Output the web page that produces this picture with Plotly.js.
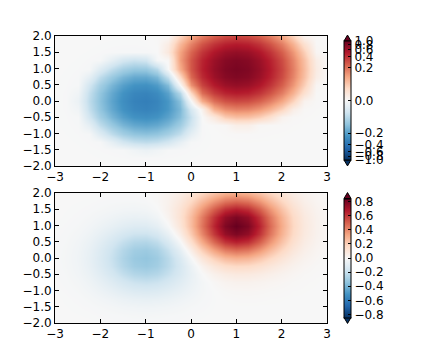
<!DOCTYPE html>
<html><head><meta charset="utf-8">
<script src="https://cdn.plot.ly/plotly-3.0.1.min.js"></script>
<style>html,body{margin:0;padding:0;background:#fff}#chart{width:440px;height:360px}</style>
</head><body><div id="chart"></div>
<script>
// grid coordinates
const xs = [-3,-2.75,-2.5,-2.25,-2,-1.75,-1.5,-1.25,-1,-0.75,-0.5,-0.25,0,0.25,0.5,0.75,1,1.25,1.5,1.75,2,2.25,2.5,2.75,3];
const ys = [-2,-1.75,-1.5,-1.25,-1,-0.75,-0.5,-0.25,0,0.25,0.5,0.75,1,1.25,1.5,1.75,2];
// field values (rows = ys, columns = xs)
const zValues = [
[0,0,-0.001,-0.001,-0.002,-0.004,-0.005,-0.006,-0.006,-0.006,-0.005,-0.004,-0.002,-0.001,-0.001,0,0,0,0,0,0,0,0,0,0],
[0,-0.001,-0.002,-0.003,-0.006,-0.009,-0.012,-0.015,-0.016,-0.015,-0.012,-0.009,-0.006,-0.003,-0.001,0,0,0,0,0,0,0,0,0,0],
[-0.001,-0.002,-0.004,-0.007,-0.013,-0.020,-0.028,-0.033,-0.036,-0.033,-0.028,-0.020,-0.012,-0.007,-0.002,0,0.001,0.001,0.001,0.001,0.001,0,0,0,0],
[-0.001,-0.003,-0.007,-0.015,-0.026,-0.040,-0.055,-0.066,-0.071,-0.066,-0.055,-0.039,-0.024,-0.012,-0.003,0.002,0.004,0.005,0.004,0.003,0.002,0.001,0.001,0,0],
[-0.002,-0.006,-0.013,-0.026,-0.046,-0.071,-0.097,-0.117,-0.124,-0.116,-0.095,-0.068,-0.040,-0.017,-0.001,0.009,0.013,0.014,0.012,0.009,0.006,0.003,0.002,0.001,0],
[-0.004,-0.009,-0.020,-0.040,-0.071,-0.110,-0.150,-0.180,-0.192,-0.179,-0.146,-0.101,-0.056,-0.018,0.010,0.028,0.036,0.036,0.030,0.022,0.015,0.008,0.004,0.002,0.001],
[-0.005,-0.012,-0.028,-0.055,-0.097,-0.150,-0.205,-0.246,-0.261,-0.243,-0.195,-0.131,-0.064,-0.004,0.042,0.071,0.084,0.082,0.069,0.051,0.033,0.019,0.009,0.004,0.002],
[-0.006,-0.015,-0.033,-0.066,-0.117,-0.181,-0.247,-0.297,-0.314,-0.290,-0.228,-0.144,-0.052,0.034,0.104,0.151,0.171,0.164,0.137,0.101,0.065,0.037,0.019,0.008,0.003],
[-0.006,-0.016,-0.036,-0.071,-0.124,-0.192,-0.262,-0.315,-0.332,-0.303,-0.230,-0.127,-0.010,0.106,0.206,0.276,0.304,0.290,0.241,0.177,0.114,0.065,0.033,0.015,0.006],
[-0.006,-0.015,-0.033,-0.066,-0.117,-0.180,-0.246,-0.295,-0.308,-0.275,-0.196,-0.080,0.060,0.208,0.341,0.437,0.475,0.450,0.374,0.274,0.177,0.101,0.051,0.022,0.009],
[-0.005,-0.012,-0.028,-0.055,-0.097,-0.149,-0.203,-0.243,-0.251,-0.216,-0.135,-0.012,0.145,0.319,0.484,0.605,0.652,0.616,0.511,0.374,0.242,0.138,0.069,0.031,0.012],
[-0.004,-0.009,-0.020,-0.040,-0.071,-0.109,-0.148,-0.176,-0.178,-0.144,-0.066,0.057,0.221,0.411,0.597,0.736,0.789,0.744,0.617,0.452,0.292,0.166,0.084,0.037,0.015],
[-0.002,-0.006,-0.013,-0.026,-0.046,-0.070,-0.095,-0.111,-0.109,-0.077,-0.008,0.106,0.265,0.455,0.644,0.787,0.842,0.792,0.657,0.481,0.311,0.177,0.089,0.039,0.015],
[-0.001,-0.003,-0.007,-0.015,-0.026,-0.040,-0.054,-0.061,-0.056,-0.029,0.028,0.126,0.266,0.437,0.610,0.742,0.792,0.744,0.617,0.452,0.292,0.166,0.084,0.037,0.015],
[-0.001,-0.002,-0.004,-0.007,-0.013,-0.020,-0.026,-0.029,-0.024,-0.003,0.042,0.118,0.229,0.367,0.508,0.616,0.657,0.617,0.512,0.375,0.242,0.138,0.069,0.031,0.012],
[0,-0.001,-0.002,-0.003,-0.006,-0.009,-0.011,-0.012,-0.007,0.008,0.038,0.092,0.171,0.271,0.373,0.451,0.481,0.452,0.375,0.274,0.177,0.101,0.051,0.022,0.009],
[0,0,-0.001,-0.001,-0.002,-0.003,-0.004,-0.004,0,0.009,0.028,0.062,0.112,0.176,0.241,0.292,0.311,0.292,0.242,0.177,0.114,0.065,0.033,0.015,0.006]
];
const topTicks = [-1,-0.8,-0.6,-0.4,-0.2,0,0.2,0.4,0.6,0.8,1];
const bottomTicks = [-0.8,-0.6,-0.4,-0.2,0,0.2,0.4,0.6,0.8];
const xTicks = [-3,-2,-1,0,1,2,3];
const yTicks = [-2,-1.5,-1,-0.5,0,0.5,1,1.5,2];
const symVmin = -1.0, symVmax = 1.0;

// RdBu_r colormap
const rdbu = ['#053061','#2166ac','#4393c3','#92c5de','#d1e5f0','#f7f7f7','#fddbc7','#f4a582','#d6604d','#b2182b','#67001f'];
const cscale = rdbu.map((c,i)=>[i/10,c]);

// symmetric log norm (linthresh=0.03, linscale=0.03)
const lt = 0.03, ls = 0.03, lsAdj = ls/(1-Math.exp(-1));
function symlog(v){
  const a = Math.abs(v);
  if (a > lt) return Math.sign(v)*lt*(lsAdj + Math.log(a/lt));
  return v*lsAdj;
}
const zTop = zValues.map(r=>r.map(symlog));
const zMax = Math.max(...zValues.map(r=>Math.max(...r)));
const fmt = v => v.toFixed(1).replace('-', '\u2212');

// layout geometry (pixels)
const W=440,H=360,L=55,R=113,T=36,B=37;
const pw=W-L-R, ph=H-T-B;
const px2x = p => (p-L)/pw;
const py2y = p => (H-B-p)/ph;
const cbLeft=344, cbThick=7, cbLen=119;
const cbTopMid=100.5, cbBotMid=258;

const font = {family:'DejaVu Sans, sans-serif', size:12, color:'#000'};
const cbCommon = {thickness:cbThick, thicknessmode:'pixels', len:cbLen, lenmode:'pixels',
  x:px2x(cbLeft), xanchor:'left', xpad:0, ypad:0, yanchor:'middle',
  outlinewidth:1, outlinecolor:'#000', ticks:'inside', ticklen:3, tickcolor:'#000',
  tickfont:font, tickmode:'array'};

const traces = [
 {type:'heatmap', x:xs, y:ys, z:zTop, colorscale:cscale, zmin:symlog(symVmin), zmax:symlog(symVmax),
  zsmooth:'best', xaxis:'x', yaxis:'y',
  colorbar:Object.assign({}, cbCommon, {y:py2y(cbTopMid), tickvals:topTicks.map(symlog), ticktext:topTicks.map(fmt)})},
 {type:'heatmap', x:xs, y:ys, z:zValues, colorscale:cscale, zmin:-zMax, zmax:zMax,
  zsmooth:'best', xaxis:'x2', yaxis:'y2',
  colorbar:Object.assign({}, cbCommon, {y:py2y(cbBotMid), tickvals:bottomTicks, ticktext:bottomTicks.map(fmt)})}
];

function tri(midY, up, color){
  const half = cbLen/2, ext = cbLen*0.05;
  const base = up ? midY-half : midY+half;
  const tip = up ? base-ext : base+ext;
  const x0=px2x(cbLeft), x1=px2x(cbLeft+cbThick), xm=px2x(cbLeft+cbThick/2);
  return {type:'path', xref:'paper', yref:'paper',
    path:`M ${x0} ${py2y(base)} L ${xm} ${py2y(tip)} L ${x1} ${py2y(base)} Z`,
    fillcolor:color, line:{color:'#000', width:1}};
}

const axisX = {range:[-3,3], tickmode:'array', tickvals:xTicks, ticktext:xTicks.map(v=>String(v).replace('-','\u2212')),
  ticks:'inside', ticklen:4, tickcolor:'#000', showline:true, linecolor:'#000', linewidth:1, mirror:'ticks',
  showgrid:false, zeroline:false, tickfont:font};
const axisY = {range:[-2,2], tickmode:'array', tickvals:yTicks, ticktext:yTicks.map(fmt),
  ticks:'inside', ticklen:4, tickcolor:'#000', showline:true, linecolor:'#000', linewidth:1, mirror:'ticks',
  showgrid:false, zeroline:false, tickfont:font};

const topDomain=[py2y(166), 1], botDomain=[0, py2y(193)];
const layout = {
  width:W, height:H, margin:{l:L,r:R,t:T,b:B}, paper_bgcolor:'#fff', plot_bgcolor:'#fff',
  font:font, showlegend:false,
  xaxis:Object.assign({}, axisX, {anchor:'y', domain:[0,1]}),
  yaxis:Object.assign({}, axisY, {anchor:'x', domain:topDomain}),
  xaxis2:Object.assign({}, axisX, {anchor:'y2', domain:[0,1]}),
  yaxis2:Object.assign({}, axisY, {anchor:'x2', domain:botDomain}),
  shapes:[tri(cbTopMid,true,rdbu[10]), tri(cbTopMid,false,rdbu[0]), tri(cbBotMid,true,rdbu[10]), tri(cbBotMid,false,rdbu[0])]
};
Plotly.newPlot('chart', traces, layout, {staticPlot:true, displayModeBar:false});
</script></body></html>
